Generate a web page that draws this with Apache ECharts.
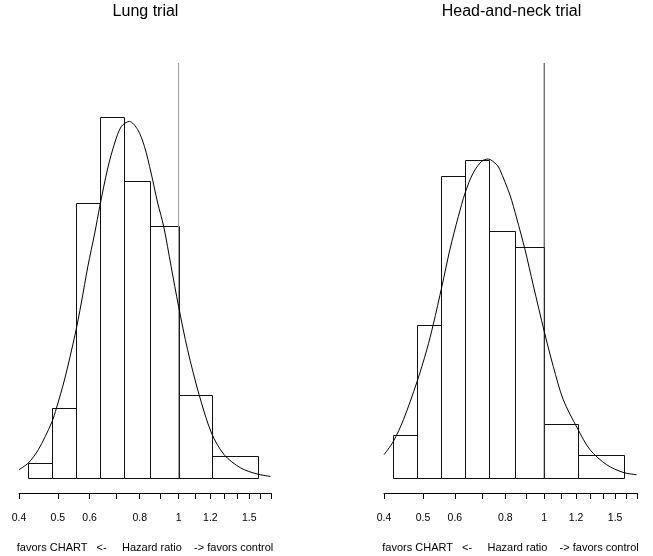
<!DOCTYPE html>
<html>
<head>
<meta charset="utf-8">
<script src="https://cdn.jsdelivr.net/npm/echarts@6/dist/echarts.min.js"></script>
<style>
  html, body { margin: 0; padding: 0; background: #fff; }
  #chart { width: 653px; height: 556px; }
</style>
</head>
<body>
<div id="chart"></div>
<script>
// hazard ratio bins (shared by both trials)
const binEdges = [0.422, 0.484, 0.554, 0.636, 0.731, 0.848, 1.0, 1.213, 1.58]
const lungHeights = [0.15, 0.70, 2.75, 3.61, 2.97, 2.52, 0.83, 0.22]
const hnHeights = [0.43, 1.53, 3.02, 3.18, 2.47, 2.31, 0.54, 0.23]

// fitted density curves
const lungCurveHR = [0.400, 0.422, 0.447, 0.482, 0.496, 0.520, 0.553, 0.572, 0.594, 0.618, 0.636, 0.666, 0.693, 0.720, 0.754, 0.791, 0.822, 0.854, 0.887, 0.918, 0.958, 1.0, 1.053, 1.125, 1.208, 1.299, 1.429, 1.570, 1.695]
const lungCurveY = [0.083, 0.15, 0.283, 0.55, 0.70, 0.99, 1.45, 1.75, 2.116, 2.45, 2.716, 3.1, 3.35, 3.516, 3.566, 3.483, 3.316, 3.05, 2.75, 2.516, 2.116, 1.716, 1.283, 0.833, 0.45, 0.233, 0.10, 0.04, 0.016]
const hnCurveHR = [0.400, 0.422, 0.447, 0.482, 0.511, 0.530, 0.557, 0.583, 0.612, 0.636, 0.666, 0.699, 0.726, 0.762, 0.776, 0.822, 0.854, 0.896, 0.939, 1.0, 1.053, 1.115, 1.208, 1.299, 1.429, 1.570, 1.695]
const hnCurveY = [0.233, 0.366, 0.583, 0.95, 1.283, 1.533, 1.916, 2.283, 2.616, 2.85, 3.05, 3.166, 3.19, 3.133, 3.083, 2.83, 2.6, 2.283, 1.93, 1.466, 1.116, 0.783, 0.50, 0.283, 0.133, 0.056, 0.033]

const tickHR = [0.4, 0.5, 0.6, 0.7, 0.8, 0.9, 1.0, 1.1, 1.2, 1.3, 1.4, 1.5, 1.6, 1.7]
const labelHR = [0.4, 0.5, 0.6, 0.8, 1, 1.2, 1.5]
const titles = ['Lung trial', 'Head-and-neck trial']
const xName = 'favors CHART   <-     Hazard ratio    -> favors control'
const refHR = 1
const yTop = 4.15

const font = 'Liberation Sans, Arial, Helvetica, sans-serif'
const ln = Math.log
const crisp = v => Math.round(v) + 0.5

const bins = h => h.map((v, i) => [ln(binEdges[i]), ln(binEdges[i + 1]), v])
const curve = (xs, ys) => xs.map((x, i) => [ln(x), ys[i]])

const xAxis = idx => ({
  type: 'value',
  gridIndex: idx,
  min: ln(0.4),
  max: ln(1.7),
  splitLine: { show: false },
  axisLine: { show: true, onZero: false, lineStyle: { color: '#000', width: 1 } },
  axisTick: { show: true, inside: false, length: 6, lineStyle: { color: '#000' }, customValues: tickHR.map(ln) },
  axisLabel: {
    show: true, margin: 20, color: '#000', fontSize: 10.5, fontFamily: font,
    customValues: labelHR.map(ln),
    formatter: v => String(+Math.exp(v).toFixed(1))
  },
  name: xName,
  nameLocation: 'middle',
  nameGap: 49,
  nameTextStyle: { color: '#000', fontSize: 11, fontFamily: font }
})

const yAxis = idx => ({ type: 'value', gridIndex: idx, min: -0.15, max: yTop, show: false })

const histSeries = (idx, h) => ({
  type: 'custom',
  xAxisIndex: idx,
  yAxisIndex: idx,
  data: bins(h),
  renderItem: (params, api) => {
    const p0 = api.coord([api.value(0), 0])
    const p1 = api.coord([api.value(1), api.value(2)])
    const x0 = crisp(p0[0]), x1 = crisp(p1[0]), y0 = crisp(p0[1]), y1 = crisp(p1[1])
    return {
      type: 'rect',
      shape: { x: x0, y: y1, width: x1 - x0, height: y0 - y1 },
      style: { fill: 'none', stroke: '#111', lineWidth: 1 }
    }
  },
  silent: true
})

const lineSeries = (idx, data, color, smooth) => ({
  type: 'line',
  xAxisIndex: idx,
  yAxisIndex: idx,
  data: data,
  smooth: smooth,
  showSymbol: false,
  lineStyle: { color: color, width: 1 },
  silent: true
})

const chart = echarts.init(document.getElementById('chart'), null, { renderer: 'canvas' })
chart.setOption({
  backgroundColor: '#fff',
  animation: false,
  title: [
    { text: titles[0], left: 145.5, top: 4, textAlign: 'center', padding: 0,
      textStyle: { fontSize: 16, fontWeight: 'normal', color: '#000', fontFamily: font } },
    { text: titles[1], left: 511.5, top: 4, textAlign: 'center', padding: 0,
      textStyle: { fontSize: 16, fontWeight: 'normal', color: '#000', fontFamily: font } }
  ],
  grid: [
    { left: 19, top: 63, width: 252, height: 430, outerBoundsMode: 'none', containLabel: false },
    { left: 384, top: 63, width: 253, height: 430, outerBoundsMode: 'none', containLabel: false }
  ],
  xAxis: [xAxis(0), xAxis(1)],
  yAxis: [yAxis(0), yAxis(1)],
  series: [
    histSeries(0, lungHeights),
    lineSeries(0, [[ln(refHR), 0], [ln(refHR), yTop]], '#999', false),
    lineSeries(0, curve(lungCurveHR, lungCurveY), '#000', 0.3),
    histSeries(1, hnHeights),
    lineSeries(1, [[ln(refHR), 0], [ln(refHR), yTop]], '#333', false),
    lineSeries(1, curve(hnCurveHR, hnCurveY), '#000', 0.3)
  ]
})
</script>
</body>
</html>
